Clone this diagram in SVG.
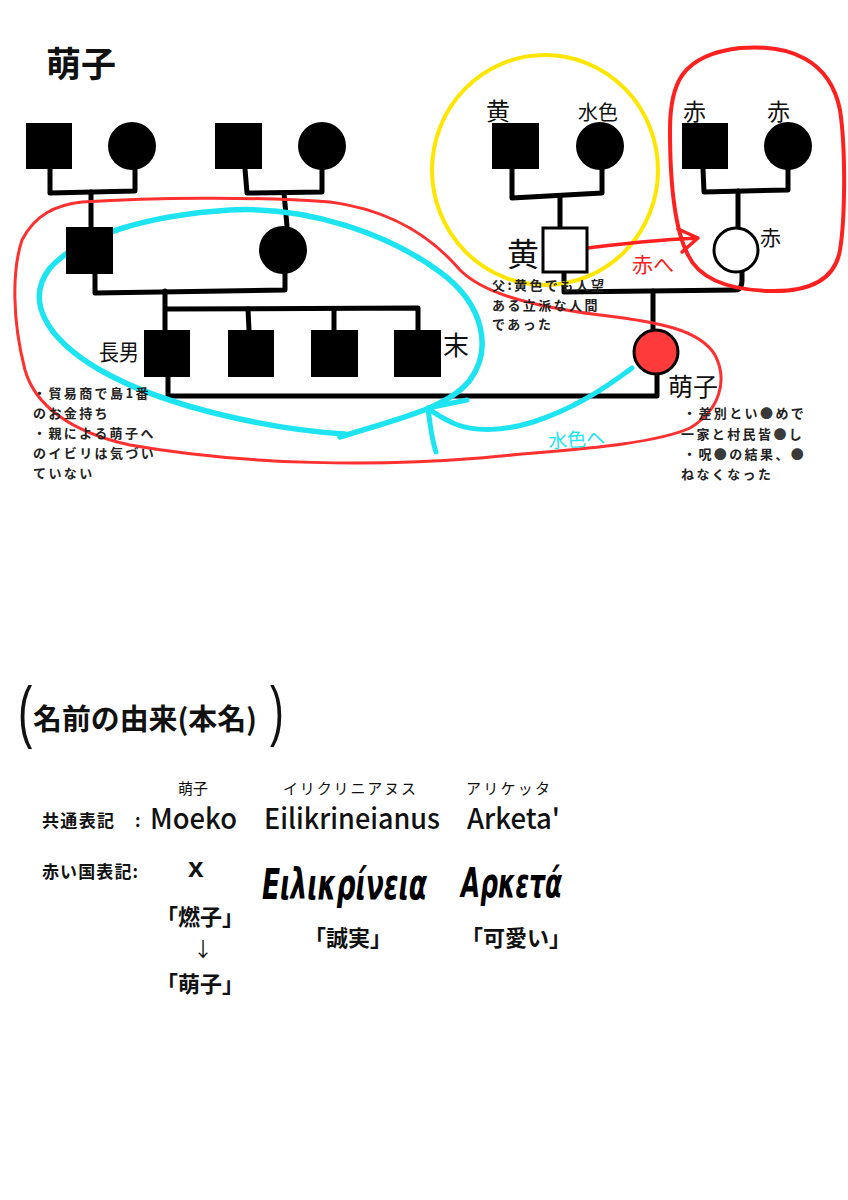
<svg xmlns="http://www.w3.org/2000/svg" width="848" height="1200" viewBox="0 0 848 1200">
<style>
.jp{font-family:"Noto Sans CJK JP","Noto Sans",sans-serif;}
.b{font-weight:700;}
.note{font-family:"Noto Sans CJK JP",sans-serif;font-size:13px;font-weight:700;letter-spacing:2.4px;fill:#222;}
.hand{font-family:"Noto Sans CJK JP",sans-serif;font-weight:400;}
.conn{fill:none;stroke:#000;stroke-width:5;stroke-linejoin:round;stroke-linecap:round;}
.sq{fill:#000;}
.ci{fill:#000;}
.open{fill:#fff;stroke:#000;stroke-width:3;}
.lat{font-family:"Noto Sans CJK JP","Noto Sans",sans-serif;font-weight:500;fill:#111;}
.greek{font-family:"DejaVu Sans",sans-serif;font-style:italic;font-weight:700;fill:#000;}
.cen{fill:#3a3a3a;}
.paren{font-family:"Liberation Sans",sans-serif;fill:#111;}
</style>
<rect width="848" height="1200" fill="#fff"/>

<text class="jp b" x="46" y="77" font-size="35" fill="#111">萌子</text>

<g id="connectors">
<path class="conn" d="M50,169 L50,193 L135,191 L135,170"/>
<path class="conn" d="M91,192 L91,227"/>
<path class="conn" d="M245,169 L247,193 L322,192 L322,170"/>
<path class="conn" d="M284,193 L287,226"/>
<path class="conn" d="M95,274 L95,293 L285,290 L285,274"/>
<path class="conn" d="M165,291 L165,330"/>
<path class="conn" d="M167,309 L418,308 L418,330"/>
<path class="conn" d="M248,309 L249,330"/>
<path class="conn" d="M334,309 L334,330"/>
<path class="conn" d="M168,377 L168,396 L657,396 L657,374"/>
<path class="conn" d="M512,169 L512,198 L602,193 L602,170"/>
<path class="conn" d="M560,196 L560,228"/>
<path class="conn" d="M703,169 L704,192 L788,190 L788,170"/>
<path class="conn" d="M738,191 L738,228"/>
<path class="conn" d="M564,272 L564,292 L735,290 Q742,290 742,280 L742,272"/>
<path class="conn" d="M653,291 L653,330"/>
</g>

<g id="groups">
<ellipse cx="545" cy="170" rx="113" ry="115" fill="none" stroke="#ffe600" stroke-width="4"/>
<path d="M670,130 C670,85 680,55 740,48 C790,44 830,60 840,110 C846,150 845,220 840,250 C835,280 810,292 770,291 C730,290 700,280 688,255 C674,228 670,180 670,130 Z" fill="none" stroke="#ff2020" stroke-width="4"/>
<path d="M82,202 C150,198 250,196 330,202 C390,210 430,235 460,270 C480,290 520,305 600,315 C660,322 700,330 715,355 C728,380 720,410 690,428 C650,446 560,450 480,458 C380,466 250,466 130,445 C70,432 35,405 25,370 C12,320 12,270 22,240 C35,215 55,205 82,202 Z" fill="none" stroke="#ff3030" stroke-width="3"/>
<path d="M345,434 C280,430 170,410 100,370 C45,338 25,300 50,268 C80,235 150,215 230,210 C310,206 390,235 440,272 C485,305 492,350 470,380 C448,408 400,418 340,437" fill="none" stroke="#1ee4f2" stroke-width="5.5" stroke-linecap="round"/>
</g>

<g id="arrows">
<path d="M632,368 C600,392 570,410 533,422 C505,431 475,432 455,424 C442,418 434,413 428,408" fill="none" stroke="#1ee4f2" stroke-width="5" stroke-linecap="round"/>
<path d="M428,408 L467,400 M428,408 C430,425 432,440 436,452" fill="none" stroke="#1ee4f2" stroke-width="5" stroke-linecap="round"/>
<path d="M572,250 C610,245 650,240 698,238 M678,229 L698,238 L682,252" fill="none" stroke="#ff2020" stroke-width="3.5" stroke-linecap="round" stroke-linejoin="round"/>
</g>

<g id="gp1-m"><rect class="sq" x="26" y="123" width="46" height="46"/></g>
<g id="gp1-f"><circle class="ci" cx="132" cy="146" r="24"/></g>
<g id="gp2-m"><rect class="sq" x="215" y="123" width="47" height="46"/></g>
<g id="gp2-f"><circle class="ci" cx="322" cy="146" r="24"/></g>
<g id="husband-father"><rect class="sq" x="66" y="227" width="47" height="47"/></g>
<g id="husband-mother"><circle class="ci" cx="283" cy="250" r="24"/></g>
<g id="son1"><rect class="sq" x="144" y="330" width="46" height="47"/></g>
<g id="son2"><rect class="sq" x="228" y="330" width="46" height="47"/></g>
<g id="son3"><rect class="sq" x="311" y="330" width="47" height="47"/></g>
<g id="son4"><rect class="sq" x="394" y="330" width="47" height="47"/></g>
<g id="yellow-gf"><rect class="sq" x="492" y="123" width="47" height="46"/></g>
<g id="yellow-gm"><circle class="ci" cx="600" cy="146" r="24"/></g>
<g id="red-gf"><rect class="sq" x="682" y="123" width="46" height="46"/></g>
<g id="red-gm"><circle class="ci" cx="788" cy="146" r="24"/></g>
<g id="father"><rect class="open" x="543" y="228" width="44" height="44"/></g>
<g id="mother"><circle class="open" cx="736" cy="250" r="22"/></g>
<g id="moeko"><circle cx="656" cy="352" r="22" fill="#ff3a3a" stroke="#000" stroke-width="3"/></g>

<g id="labels">
<text class="hand" x="486" y="120" font-size="24" style="fill:#111">黄</text>
<text class="hand" x="578" y="120" font-size="20" style="fill:#111">水色</text>
<text class="hand b" x="683" y="120" font-size="23" style="fill:#111">赤</text>
<text class="hand b" x="767" y="120" font-size="23" style="fill:#111">赤</text>
<text class="hand b" x="760" y="245" font-size="21" style="fill:#111">赤</text>
<text class="hand" x="507" y="266" font-size="32" style="fill:#111">黄</text>
<text class="hand" x="99" y="360" font-size="22" textLength="40" lengthAdjust="spacingAndGlyphs" style="fill:#111">長男</text>
<text class="hand" x="443" y="355" font-size="26" style="fill:#111">末</text>
<text class="hand" x="668" y="396" font-size="25" style="fill:#111">萌子</text>
<text class="hand" x="632" y="272" font-size="21" style="fill:#ff2020">赤へ</text>
<text class="hand" x="548" y="446" font-size="19" transform="rotate(-4 580 438)" style="fill:#1ee4f2">水色へ</text>
</g>

<g id="notes">
<text class="note" x="492" y="290">父:黄色でも人望</text>
<text class="note" x="492" y="310">ある立派な人間</text>
<text class="note" x="492" y="329">であった</text>
<text class="note" x="33" y="398">・貿易商で島1番</text>
<text class="note" x="33" y="418">のお金持ち</text>
<text class="note" x="33" y="438">・親による萌子へ</text>
<text class="note" x="33" y="458">のイビリは気づい</text>
<text class="note" x="33" y="478">ていない</text>
<text class="note" x="683" y="418">・差別とい<tspan class="cen">●</tspan>めで</text>
<text class="note" x="681" y="439">一家と村民皆<tspan class="cen">●</tspan>し</text>
<text class="note" x="683" y="459">・呪<tspan class="cen">●</tspan>の結果、<tspan class="cen">●</tspan></text>
<text class="note" x="681" y="479">ねなくなった</text>
</g>

<g id="origin">
<text class="paren" transform="translate(18 735) scale(0.62 1)" font-size="69">(</text>
<text class="paren" transform="translate(270 733) scale(0.62 1)" font-size="67">)</text>
<text class="jp b" x="33" y="730" font-size="29" fill="#111" textLength="224" lengthAdjust="spacingAndGlyphs">名前の由来(本名)</text>

<text class="jp" x="178" y="794" font-size="15" fill="#111">萌子</text>
<text class="jp" x="283" y="794" font-size="15" fill="#111" textLength="133" lengthAdjust="spacing">イリクリニアヌス</text>
<text class="jp" x="466" y="794" font-size="15" fill="#111" textLength="84" lengthAdjust="spacing">アリケッタ</text>

<text class="jp b" x="42" y="827" font-size="17" fill="#111" textLength="72" lengthAdjust="spacing">共通表記</text>
<text class="jp b" x="135" y="827" font-size="17" fill="#111">:</text>
<text class="lat" x="150" y="829" font-size="28" textLength="87" lengthAdjust="spacingAndGlyphs">Moeko</text>
<text class="lat" x="264" y="829" font-size="28" textLength="176" lengthAdjust="spacingAndGlyphs">Eilikrineianus</text>
<text class="lat" x="467" y="829" font-size="28" textLength="93" lengthAdjust="spacingAndGlyphs">Arketa'</text>

<text class="jp b" x="42" y="878" font-size="17" fill="#111" textLength="96" lengthAdjust="spacing">赤い国表記:</text>
<text x="188" y="877" font-family="Liberation Sans, sans-serif" font-weight="700" font-size="28" fill="#111">x</text>
<text class="greek" transform="translate(262 899) scale(0.65 1)" font-size="42" textLength="254" lengthAdjust="spacingAndGlyphs">Ειλικρίνεια</text>
<text class="greek" transform="translate(461 897) scale(0.62 1)" font-size="40" textLength="163" lengthAdjust="spacingAndGlyphs">Αρκετά</text>

<text class="jp b" x="200" y="925" font-size="22" fill="#111" text-anchor="middle">「燃子」</text>
<text class="jp" x="203" y="957" font-size="20" fill="#111" text-anchor="middle">↓</text>
<text class="jp b" x="200" y="992" font-size="22" fill="#111" text-anchor="middle">「萌子」</text>
<text class="jp b" x="348" y="946" font-size="22" fill="#111" text-anchor="middle">「誠実」</text>
<text class="jp b" x="516" y="946" font-size="22" fill="#111" text-anchor="middle">「可愛い」</text>
</g>
</svg>
